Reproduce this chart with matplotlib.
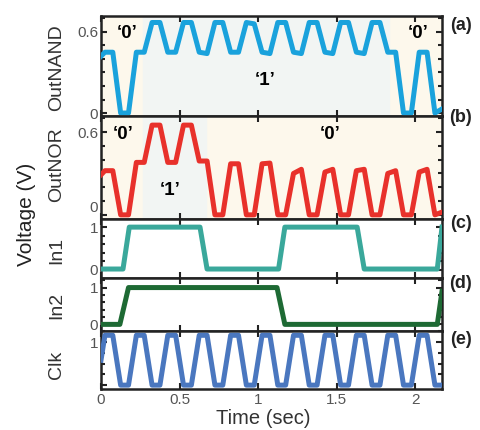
import matplotlib
matplotlib.use("Agg")
import matplotlib.pyplot as plt
from matplotlib.ticker import MultipleLocator, FixedLocator

plt.rcParams['font.family'] = ['Liberation Sans', 'DejaVu Sans']

# corner times shared by the clock and the two gate outputs (sec)
clk_t = [0, 0.025, 0.075, 0.125, 0.175, 0.225, 0.275, 0.325, 0.375, 0.425,
         0.475, 0.525, 0.575, 0.625, 0.675, 0.725, 0.775, 0.825, 0.875,
         0.925, 0.975, 1.025, 1.075, 1.125, 1.175, 1.225, 1.275, 1.325,
         1.375, 1.425, 1.475, 1.525, 1.575, 1.625, 1.675, 1.725, 1.775,
         1.825, 1.875, 1.925, 1.975, 2.025, 2.075, 2.125, 2.17]
clk_v = [0.58, 1.16, 1.16, 0, 0, 1.16, 1.16, 0, 0, 1.16, 1.16, 0, 0, 1.16,
         1.16, 0, 0, 1.16, 1.16, 0, 0, 1.16, 1.16, 0, 0, 1.16, 1.16, 0, 0,
         1.16, 1.16, 0, 0, 1.16, 1.16, 0, 0, 1.16, 1.16, 0, 0, 1.16, 1.16,
         0, 0]
nand_v = [0.42, 0.45, 0.45, 0, 0, 0.45, 0.45, 0.67, 0.67, 0.45, 0.45, 0.67,
          0.67, 0.45, 0.44, 0.67, 0.67, 0.45, 0.45, 0.67, 0.66, 0.45, 0.44,
          0.67, 0.67, 0.45, 0.44, 0.67, 0.67, 0.45, 0.44, 0.67, 0.67, 0.45,
          0.44, 0.67, 0.67, 0.45, 0.45, 0, 0, 0.45, 0.45, 0, 0.03]
nor_v = [0.29, 0.32, 0.32, 0, 0, 0.38, 0.38, 0.65, 0.65, 0.38, 0.38, 0.65,
         0.65, 0.39, 0.39, 0, 0, 0.37, 0.37, 0, 0, 0.37, 0.375, 0, 0, 0.30,
         0.33, 0, 0, 0.31, 0.33, 0, 0, 0.32, 0.33, 0, 0, 0.30, 0.32, 0, 0,
         0.31, 0.33, 0, 0.02]

in1_t = [0, 0.14, 0.18, 0.63, 0.675, 1.13, 1.17, 1.63, 1.675, 2.14, 2.17]
in1_v = [0.02, 0.02, 1.0, 1.0, 0.02, 0.02, 1.0, 1.0, 0.02, 0.02, 1.0]
in2_t = [0, 0.12, 0.175, 1.12, 1.17, 2.14, 2.17]
in2_v = [0, 0, 1.0, 1.0, 0, 0, 0.9]

x_ticks = [0, 0.5, 1, 1.5, 2]
x_labels = ['0', '0.5', '1', '1.5', '2']

names = ['OutNAND', 'OutNOR', 'In1', 'In2', 'Clk']
tags = ['(a)', '(b)', '(c)', '(d)', '(e)']
colors = ['#1aa2dc', '#e8312b', '#3aa89b', '#1e6a34', '#4a77bf']

W, H = 480, 430
fig = plt.figure(figsize=(W / 100, H / 100), dpi=100)

# panel edges in pixels (top, bottom)
edges = [(16, 116), (116, 219), (219, 278), (278, 331), (331, 389)]
x0, x1 = 101, 442
ylims = [(-0.022, 0.718), (-0.03, 0.716), (-0.19, 1.19), (-0.18, 1.26), (-0.09, 1.26)]
series = [(clk_t, nand_v), (clk_t, nor_v), (in1_t, in1_v), (in2_t, in2_v), (clk_t, clk_v)]

cream = '#fdf8ec'
grey = '#f2f5f3'

axes = []
for i, (top, bot) in enumerate(edges):
    ax = fig.add_axes([x0 / W, 1 - bot / H, (x1 - x0) / W, (bot - top) / H])
    t, v = series[i]
    ax.plot(t, v, color=colors[i], lw=3.6, solid_joinstyle='round', zorder=3)
    ax.set_xlim(0, 2.17)
    ax.set_ylim(*ylims[i])
    ax.set_xticks(x_ticks)
    ax.set_xticklabels(x_labels)
    if i < 2:
        ax.yaxis.set_major_locator(FixedLocator([0, 0.6]))
        ax.set_yticklabels(['0', '0.6'])
        ax.yaxis.set_minor_locator(MultipleLocator(0.1))
    elif i < 4:
        ax.yaxis.set_major_locator(FixedLocator([0, 1]))
        ax.set_yticklabels(['0', '1'])
        ax.yaxis.set_minor_locator(MultipleLocator(0.2))
    else:
        ax.yaxis.set_major_locator(FixedLocator([0, 1]))
        ax.set_yticklabels(['', '1'])
        ax.yaxis.set_minor_locator(MultipleLocator(0.25))
    ax.tick_params(which='both', direction='in', left=True, right=True,
                   top=True, bottom=True, width=1.5, colors='#222',
                   labelcolor='#555', labelsize=11)
    ax.tick_params(axis='y', which='major', length=4, pad=2)
    ax.tick_params(axis='y', which='minor', length=3)
    ax.tick_params(axis='x', which='major', length=4, pad=3)
    if i < 4:
        ax.tick_params(labelbottom=False)
    for s in ax.spines.values():
        s.set_linewidth(1.8)
        s.set_color('#222')
    axes.append(ax)

# lift the OutNOR "0" a little so it clears the In1 "1"
axes[1].get_yticklabels()[0].set_va('bottom')

# background regions
axes[0].set_facecolor(cream)
axes[0].axvspan(0.27, 1.83, color=grey, zorder=0)
axes[1].set_facecolor(cream)
axes[1].axvspan(0.27, 0.67, color=grey, zorder=0)

qfont = dict(fontsize=13.5, fontweight='bold', ha='center', va='center', zorder=4)
axes[0].text(0.166, 0.59, '\u20180\u2019', **qfont)
axes[0].text(2.02, 0.59, '\u20180\u2019', **qfont)
axes[0].text(1.045, 0.244, '\u20181\u2019', **qfont)
axes[1].text(0.14, 0.58, '\u20180\u2019', **qfont)
axes[1].text(1.46, 0.58, '\u20180\u2019', **qfont)
axes[1].text(0.44, 0.18, '\u20181\u2019', **qfont)

name_y = [68, 165, 250, 305, 365]
tag_y = [26, 118, 224, 284, 339]
for i in range(5):
    fig.text(57 / W, 1 - name_y[i] / H, names[i], rotation=90, fontsize=14,
             ha='center', va='center', color='#333')
    fig.text(461 / W, 1 - tag_y[i] / H, tags[i], fontsize=13,
             fontweight='bold', ha='center', va='center', color='#222')

fig.text(27 / W, 1 - 214 / H, 'Voltage (V)', rotation=90, fontsize=15,
         ha='center', va='center', color='#222')
fig.text(263 / W, 1 - 419 / H, 'Time (sec)', fontsize=14.5,
         ha='center', va='center', color='#333')

fig.savefig('out.png', dpi=100)
